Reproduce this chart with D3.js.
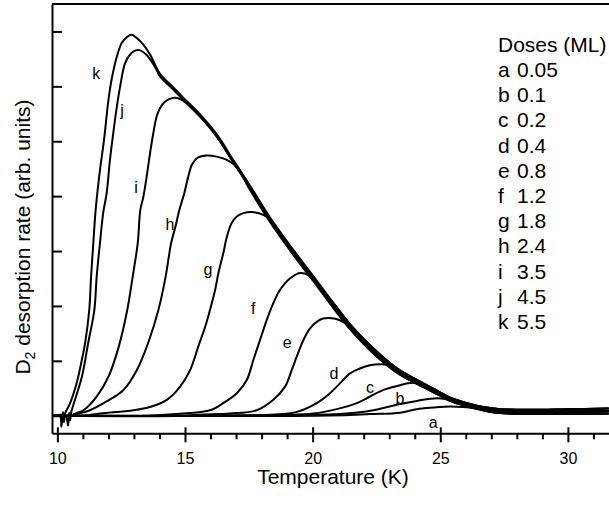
<!DOCTYPE html>
<html>
<head>
<meta charset="utf-8">
<script src="https://cdn.jsdelivr.net/npm/d3@7"></script>
<style>
  html, body { margin: 0; padding: 0; background: #fff; }
  svg { display: block; font-family: "Liberation Sans", Arial, sans-serif; }
</style>
</head>
<body>
<svg id="chart" width="609" height="505"></svg>
<script>
// ---------------- DATA ----------------
const xMajorTicks = [10, 15, 20, 25, 30];
const xMinorTicks = [11, 12, 13, 14, 16, 17, 18, 19, 21, 22, 23, 24, 26, 27, 28, 29, 31];
const yTicks = [0, 1, 2, 3, 4, 5, 6, 7];

const doseLetters = ["a", "b", "c", "d", "e", "f", "g", "h", "i", "j", "k"];
const doseValues  = ["0.05", "0.1", "0.2", "0.4", "0.8", "1.2", "1.8", "2.4", "3.5", "4.5", "5.5"];

// shared trailing edge (three slightly different traces of the band)
const envHigh = [[14.02,6.23],[14.48,6.01],[14.94,5.79],[15.59,5.49],[16.24,5.13],[16.89,4.66],[17.55,4.19],[18.33,3.61],[19.23,3.03],[20.16,2.46],[20.8,2.06],[21.46,1.67],[22.37,1.23],[23.29,0.87],[24.34,0.59],[24.9,0.45],[25.38,0.33],[26.05,0.23],[26.68,0.16],[27.35,0.12],[28.6,0.11],[30.0,0.12],[31.6,0.13]];
const envMid  = [[14.02,6.18],[14.48,5.97],[14.94,5.75],[15.59,5.45],[16.24,5.09],[16.89,4.62],[17.55,4.15],[18.33,3.57],[19.23,2.98],[20.16,2.41],[20.8,2.01],[21.46,1.62],[22.37,1.18],[23.29,0.83],[24.34,0.55],[24.9,0.42],[25.38,0.30],[26.05,0.20],[26.68,0.13],[27.35,0.085],[28.6,0.07],[30.0,0.075],[31.6,0.085]];
const envLow  = [[14.02,6.14],[14.48,5.93],[14.94,5.71],[15.59,5.41],[16.24,5.05],[16.89,4.58],[17.55,4.11],[18.33,3.53],[19.23,2.94],[20.16,2.37],[20.8,1.97],[21.46,1.58],[22.37,1.14],[23.29,0.79],[24.34,0.52],[24.9,0.39],[25.38,0.27],[26.05,0.17],[26.68,0.10],[27.35,0.05],[28.6,0.035],[30.0,0.035],[31.6,0.04]];

// leading part of each desorption trace: [T (K), rate]
const curveK = [[9.85,0],[10.1,0],[10.16,-0.2],[10.22,0.07],[10.26,-0.12],[10.30,0.04],[10.50,0.23],[10.76,0.60],[10.96,1.02],[11.09,1.33],[11.25,1.93],[11.32,2.53],[11.41,3.15],[11.50,3.75],[11.67,4.48],[11.83,5.03],[12.00,5.75],[12.14,6.16],[12.33,6.54],[12.52,6.79],[12.73,6.90],[12.91,6.94],[13.11,6.88],[13.37,6.76],[13.63,6.58]];
const curveJ = [[9.85,0],[10.32,0],[10.42,-0.18],[10.46,0.05],[10.50,-0.08],[10.54,0.06],[10.69,0.29],[10.96,0.71],[11.21,1.33],[11.45,1.93],[11.54,2.53],[11.67,3.15],[11.80,3.71],[11.93,4.05],[12.06,4.66],[12.19,5.15],[12.33,5.63],[12.46,6.00],[12.65,6.42],[12.85,6.58],[13.04,6.65],[13.21,6.66],[13.50,6.57],[13.89,6.30]];
const curveI = [[9.85,0],[10.5,0],[10.76,0.05],[11.02,0.10],[11.54,0.35],[12.00,0.71],[12.40,1.25],[12.74,1.93],[12.95,2.53],[13.15,3.15],[13.25,3.75],[13.37,3.99],[13.50,4.36],[13.63,4.78],[13.76,5.15],[13.89,5.45],[14.02,5.60],[14.21,5.72],[14.54,5.79],[14.81,5.77],[15.07,5.69]];
const curveH = [[9.85,0],[10.5,0],[10.76,0.03],[11.28,0.10],[11.93,0.26],[12.59,0.47],[13.11,0.83],[13.56,1.33],[13.96,1.93],[14.24,2.53],[14.46,3.15],[14.63,3.45],[14.78,3.75],[14.97,4.05],[15.13,4.36],[15.28,4.58],[15.50,4.70],[15.85,4.74],[16.24,4.72],[16.64,4.66],[17.03,4.53]];
const curveG = [[9.85,0],[11.0,0],[11.68,0.04],[12.98,0.10],[13.63,0.16],[14.29,0.29],[14.81,0.53],[15.20,0.83],[15.52,1.26],[15.79,1.62],[15.98,1.93],[16.18,2.29],[16.31,2.60],[16.50,2.96],[16.64,3.26],[16.83,3.51],[17.03,3.63],[17.29,3.69],[17.61,3.71],[18.07,3.66],[18.40,3.54]];
const curveF = [[9.85,0],[13.5,0],[14.94,0.04],[15.98,0.10],[16.50,0.23],[17.03,0.41],[17.42,0.65],[17.68,1.02],[17.94,1.38],[18.20,1.74],[18.46,2.05],[18.72,2.29],[19.11,2.50],[19.51,2.60],[19.83,2.56],[20.16,2.41]];
const curveE = [[9.85,0],[15.0,0],[15.59,0.02],[16.76,0.04],[17.81,0.10],[18.46,0.29],[18.92,0.53],[19.18,0.83],[19.38,1.08],[19.64,1.38],[19.90,1.59],[20.16,1.71],[20.41,1.77],[20.68,1.78],[21.07,1.74],[21.46,1.62]];
const curveD = [[9.85,0],[17.0,0],[18.07,0.013],[19.38,0.07],[20.16,0.23],[20.68,0.41],[21.07,0.59],[21.46,0.77],[21.85,0.86],[22.24,0.92],[22.64,0.94],[23.03,0.92],[23.29,0.83]];
const curveC = [[9.85,0],[18.0,0],[18.72,0.013],[20.03,0.04],[20.94,0.12],[21.73,0.23],[22.25,0.35],[22.77,0.47],[23.29,0.54],[23.94,0.60],[24.34,0.56]];
const curveB = [[9.85,0],[19.5,0.01],[21.07,0.03],[22.38,0.10],[23.29,0.20],[24.08,0.27],[24.86,0.32],[25.38,0.29],[25.84,0.24]];
const curveA = [[9.85,0],[20.68,0.004],[22.25,0.03],[23.43,0.055],[24.08,0.12],[24.73,0.15],[25.38,0.17],[25.90,0.16],[26.36,0.14],[26.95,0.095]];

// curve letters placed next to the traces: [letter, T, rate]
const curveLabels = [["k",11.52,6.23],["j",12.53,5.57],["i",13.08,4.17],["h",14.41,3.48],["g",15.90,2.66],["f",17.67,1.96],["e",19.0,1.33],["d",20.84,0.78],["c",22.25,0.52],["b",23.42,0.32],["a",24.72,-0.11]];

const series = [
  {id:"a", head:curveA, env:envMid},
  {id:"b", head:curveB, env:envLow},
  {id:"c", head:curveC, env:envHigh},
  {id:"d", head:curveD, env:envMid},
  {id:"e", head:curveE, env:envLow},
  {id:"f", head:curveF, env:envHigh},
  {id:"g", head:curveG, env:envMid},
  {id:"h", head:curveH, env:envLow},
  {id:"i", head:curveI, env:envMid},
  {id:"j", head:curveJ, env:envMid},
  {id:"k", head:curveK, env:envHigh}
];

// ---------------- DRAWING ----------------
const svg = d3.select("#chart");
const x = d3.scaleLinear().domain([9.79, 31.61]).range([52, 609]);
const y = d3.scaleLinear().domain([-0.32, 7.5]).range([433.3, 4]);

const line = d3.line().x(d => x(d[0])).y(d => y(d[1])).curve(d3.curveCatmullRom.alpha(0.5));

const gCurves = svg.append("g");
series.forEach(s => {
  const lastT = s.head[s.head.length - 1][0];
  const pts = s.head.concat(s.env.filter(p => p[0] > lastT + 0.05));
  gCurves.append("path")
    .datum(pts)
    .attr("d", line)
    .attr("fill", "none")
    .attr("stroke", "#000")
    .attr("stroke-width", 2)
    .attr("stroke-linejoin", "round");
});

// top frame line
svg.append("line")
  .attr("x1", x.range()[0]).attr("x2", x.range()[1])
  .attr("y1", y.range()[1]).attr("y2", y.range()[1])
  .attr("stroke", "#000").attr("stroke-width", 2);

// bottom axis (major)
const gx = svg.append("g").attr("transform", `translate(0,${y.range()[0]})`)
  .call(d3.axisBottom(x).tickValues(xMajorTicks).tickSizeInner(9).tickSizeOuter(0)
        .tickPadding(10).tickFormat(d3.format("d")));
gx.select(".domain").attr("stroke-width", 2);
gx.selectAll(".tick line").attr("y1", -6).attr("stroke-width", 2);
gx.selectAll(".tick text").attr("font-size", 16).attr("fill", "#000")
  .attr("font-family", "Liberation Sans, Arial, sans-serif");

// bottom axis (minor)
const gxm = svg.append("g").attr("transform", `translate(0,${y.range()[0]})`)
  .call(d3.axisBottom(x).tickValues(xMinorTicks).tickSize(6).tickFormat(""));
gxm.select(".domain").remove();
gxm.selectAll(".tick line").attr("stroke-width", 2);

// left axis
const gy = svg.append("g").attr("transform", `translate(${x.range()[0]},0)`)
  .call(d3.axisLeft(y).tickValues(yTicks).tickSizeInner(-10).tickSizeOuter(0).tickFormat(""));
gy.select(".domain").attr("stroke-width", 2);
gy.selectAll(".tick line").attr("stroke-width", 2);

// curve letters
svg.append("g").selectAll("text").data(curveLabels).join("text")
  .attr("x", d => x(d[1])).attr("y", d => y(d[2]))
  .attr("dy", "0.36em")
  .attr("text-anchor", "middle")
  .attr("font-size", 16)
  .text(d => d[0]);

// legend
const legend = svg.append("g");
legend.append("text").attr("x", 498).attr("y", 51.5).attr("font-size", 21).text("Doses (ML)");
doseLetters.forEach((l, i) => {
  const yy = 77 + i * 25.2;
  legend.append("text").attr("x", 498).attr("y", yy).attr("font-size", 21).text(l);
  legend.append("text").attr("x", 517).attr("y", yy).attr("font-size", 21).text(doseValues[i]);
});

// axis titles
svg.append("text").attr("x", 333).attr("y", 484).attr("text-anchor", "middle")
  .attr("font-size", 21).text("Temperature (K)");

const yt = svg.append("text")
  .attr("transform", "translate(30,237) rotate(-90)")
  .attr("text-anchor", "middle")
  .attr("font-size", 21);
yt.append("tspan").text("D");
yt.append("tspan").attr("font-size", 14).attr("dy", 5).text("2");
yt.append("tspan").attr("dy", -5).text(" desorption rate (arb. units)");
</script>
</body>
</html>
